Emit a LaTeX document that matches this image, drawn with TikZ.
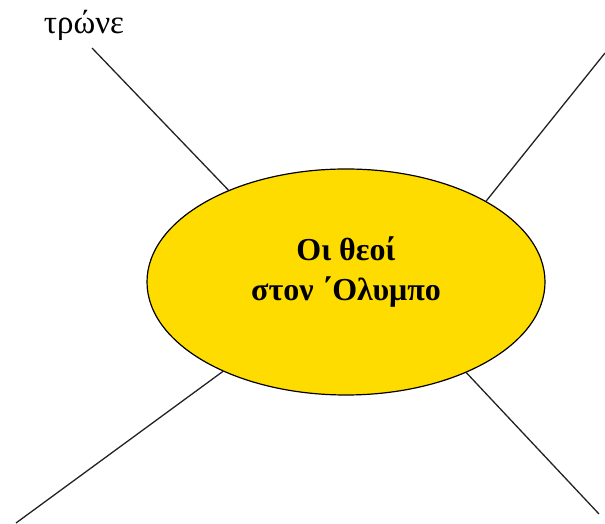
\documentclass[tikz,border=0pt]{standalone}
\usepackage{fontspec}
\setmainfont{Liberation Serif}
\usetikzlibrary{shapes.geometric}
\definecolor{sunyellow}{HTML}{FFDC00}
\definecolor{linegray}{HTML}{222222}
\tikzset{
  hub/.style={ellipse, draw=black, line width=1.2pt, fill=sunyellow, minimum width=398pt, minimum height=226pt, inner sep=0pt},
  spoke/.style={draw=linegray, line width=1.3pt},
  title/.style={align=center, font=\fontsize{32}{40}\selectfont\bfseries},
  leaf/.style={anchor=base, font=\fontsize{33}{38}\selectfont, inner sep=0pt}
}
\begin{document}
\begin{tikzpicture}[x=1pt,y=1pt]
\useasboundingbox (0,0) rectangle (605,524);
\node[hub] (e) at (346,242) {};
\node[title] (t) at (346,252) {Οι θεοί\\στον ΄Ολυμπο};
\coordinate (tl) at (92,476);
\coordinate (tr) at (605,471);
\coordinate (bl) at (16,1);
\coordinate (br) at (599,10);
\draw[spoke] (e.142.7) -- (tl);
\draw[spoke] (e.30.5) -- (tr);
\draw[spoke] (e.216.8) -- (bl);
\draw[spoke] (e.323.3) -- (br);
\node[leaf] (w) at (84,490) {τρώνε};
\end{tikzpicture}
\end{document}
